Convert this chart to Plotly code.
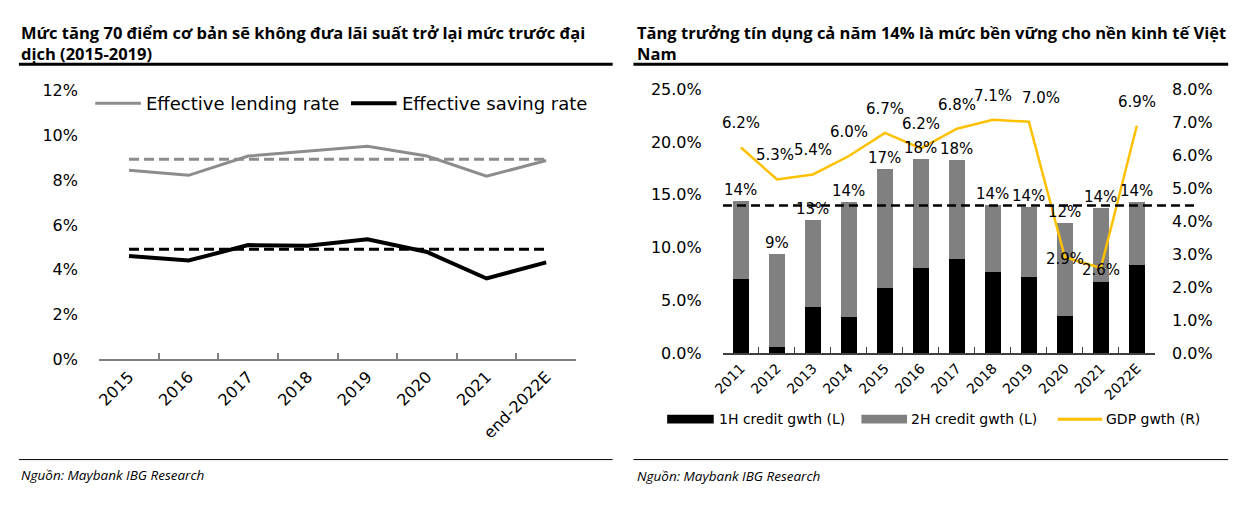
import plotly.graph_objects as go

W, H = 1247, 510

# ---------------- Left chart data ----------------
rate_years = ["2015", "2016", "2017", "2018", "2019", "2020", "2021", "end-2022E"]
lending_rate = [8.44, 8.21, 9.07, 9.29, 9.51, 9.07, 8.17, 8.87]
saving_rate = [4.61, 4.41, 5.10, 5.07, 5.36, 4.79, 3.61, 4.33]
lending_avg_pre = 8.93
saving_avg_pre = 4.91
rate_ticks = [0, 2, 4, 6, 8, 10, 12]

# ---------------- Right chart data ----------------
credit_years = ["2011", "2012", "2013", "2014", "2015", "2016", "2017",
                "2018", "2019", "2020", "2021", "2022E"]
credit_1h = [7.06, 0.61, 4.32, 3.41, 6.21, 8.10, 8.95, 7.73, 7.25, 3.50, 6.76, 8.37]
credit_2h = [7.40, 8.74, 8.31, 10.89, 11.20, 10.29, 9.38, 6.33, 6.60, 8.86, 7.00, 5.91]
gdp_growth = [6.24, 5.27, 5.42, 5.98, 6.68, 6.21, 6.81, 7.08, 7.02, 2.91, 2.58, 6.90]
credit_target = 14.0
credit_ticks = [0, 5, 10, 15, 20, 25]
gdp_ticks = [0, 1, 2, 3, 4, 5, 6, 7, 8]

# label placement tweaks (style only)
gdp_label_middle = ["2020", "2021"]
gdp_label_xshift = {"2019": 12, "2012": -2}

FONT = "DejaVu Sans"
TITLE_FONT = "Open Sans"
CLEAR = "rgba(0,0,0,0)"


def px(x):
    return x / W


def py(y):
    return (H - y) / H


fig = go.Figure()

# Left chart traces
fig.add_trace(go.Scatter(x=rate_years, y=[lending_avg_pre] * len(rate_years), mode="lines",
                         line=dict(color="#8c8c8c", width=3, dash="10px,5px"),
                         xaxis="x", yaxis="y", showlegend=False, hoverinfo="skip"))
fig.add_trace(go.Scatter(x=rate_years, y=[saving_avg_pre] * len(rate_years), mode="lines",
                         line=dict(color="#000000", width=3, dash="10px,5px"),
                         xaxis="x", yaxis="y", showlegend=False, hoverinfo="skip"))
fig.add_trace(go.Scatter(x=rate_years, y=lending_rate, mode="lines", name="Effective lending rate",
                         line=dict(color="#8c8c8c", width=3), xaxis="x", yaxis="y", showlegend=False))
fig.add_trace(go.Scatter(x=rate_years, y=saving_rate, mode="lines", name="Effective saving rate",
                         line=dict(color="#000000", width=4), xaxis="x", yaxis="y", showlegend=False))

# Right chart traces
fig.add_trace(go.Bar(x=credit_years, y=credit_1h, name="1H credit gwth (L)",
                     marker=dict(color="#000000", line=dict(width=0)),
                     xaxis="x2", yaxis="y2", showlegend=False))
fig.add_trace(go.Bar(x=credit_years, y=credit_2h, name="2H credit gwth (L)",
                     marker=dict(color="#808080", line=dict(width=0)),
                     xaxis="x2", yaxis="y2", showlegend=False))
fig.add_trace(go.Scatter(x=credit_years, y=gdp_growth, mode="lines", name="GDP gwth (R)",
                         line=dict(color="#FFC000", width=2.5),
                         xaxis="x2", yaxis="y3", showlegend=False))

annotations = []
shapes = []

label_font = dict(family=FONT, size=15, color="#000")
# Bar total labels (x given as category index)
for i, (a, b) in enumerate(zip(credit_1h, credit_2h)):
    tot = a + b
    annotations.append(dict(x=i, y=tot, xref="x2", yref="y2", text=f"{tot:.0f}%",
                            showarrow=False, yshift=11, font=label_font))
# GDP labels
for i, (yr, g) in enumerate(zip(credit_years, gdp_growth)):
    shift = -2 if yr in gdp_label_middle else 24
    annotations.append(dict(x=i, y=g, xref="x2", yref="y3", text=f"{g:.1f}%",
                            showarrow=False, yshift=shift, xshift=gdp_label_xshift.get(yr, 0),
                            font=label_font))

# 14% target dashed line (extends past the plot)
shapes.append(dict(type="line", xref="x2 domain", yref="y2", x0=0, x1=(1196 - 718.3) / (1154 - 718.3),
                   y0=credit_target, y1=credit_target, layer="above",
                   line=dict(color="#000000", width=2.5, dash="9px,5px")))

# Titles
title_font = dict(family=TITLE_FONT, size=16.5, color="#000")
annotations.append(dict(x=px(8), y=py(35), xref="paper", yref="paper", xanchor="left", yanchor="middle",
                        align="left", showarrow=False, font=title_font,
                        text="<b>Mức tăng 70 điểm cơ bản sẽ không đưa lãi suất trở lại mức trước đại<br>dịch (2015-2019)</b>"))
annotations.append(dict(x=px(630), y=py(35), xref="paper", yref="paper", xanchor="left", yanchor="middle",
                        align="left", showarrow=False, font=title_font,
                        text="<b>Tăng trưởng tín dụng cả năm 14% là mức bền vững cho nền kinh tế Việt<br>Nam</b>"))

# Title rules and bottom rules
for x0, x1 in [(8, 607), (628, 1228)]:
    shapes.append(dict(type="line", xref="paper", yref="paper", x0=px(x0), x1=px(x1),
                       y0=py(57.5), y1=py(57.5), line=dict(color="#000", width=3)))
    shapes.append(dict(type="line", xref="paper", yref="paper", x0=px(x0), x1=px(x1),
                       y0=py(468), y1=py(468), line=dict(color="#000", width=1)))

# Sources
src_font = dict(family=TITLE_FONT, size=13.5, color="#000")
annotations.append(dict(x=px(8), y=py(484), xref="paper", yref="paper", xanchor="left", yanchor="middle",
                        showarrow=False, font=src_font, text="<i>Nguồn: Maybank IBG Research</i>"))
annotations.append(dict(x=px(630), y=py(485), xref="paper", yref="paper", xanchor="left", yanchor="middle",
                        showarrow=False, font=src_font, text="<i>Nguồn: Maybank IBG Research</i>"))

# Left legend (manual)
leg_y = 98
shapes.append(dict(type="line", xref="paper", yref="paper", x0=px(85), x1=px(131), y0=py(leg_y), y1=py(leg_y),
                   line=dict(color="#8c8c8c", width=3)))
annotations.append(dict(x=px(134), y=py(leg_y), xref="paper", yref="paper", xanchor="left", yanchor="middle",
                        showarrow=False, text="Effective lending rate", font=dict(family=FONT, size=18, color="#000")))
shapes.append(dict(type="line", xref="paper", yref="paper", x0=px(343), x1=px(389), y0=py(leg_y), y1=py(leg_y),
                   line=dict(color="#000", width=4)))
annotations.append(dict(x=px(392), y=py(leg_y), xref="paper", yref="paper", xanchor="left", yanchor="middle",
                        showarrow=False, text="Effective saving rate", font=dict(family=FONT, size=18, color="#000")))

# Right legend (manual)
leg2_y = 426
shapes.append(dict(type="rect", xref="paper", yref="paper", x0=px(662), x1=px(709), y0=py(421.5), y1=py(430.5),
                   fillcolor="#000", line=dict(width=0)))
annotations.append(dict(x=px(712), y=py(leg2_y), xref="paper", yref="paper", xanchor="left", yanchor="middle",
                        showarrow=False, text="1H credit gwth (L)", font=dict(family=FONT, size=14, color="#000")))
shapes.append(dict(type="rect", xref="paper", yref="paper", x0=px(858), x1=px(904), y0=py(421.5), y1=py(430.5),
                   fillcolor="#808080", line=dict(width=0)))
annotations.append(dict(x=px(906), y=py(leg2_y), xref="paper", yref="paper", xanchor="left", yanchor="middle",
                        showarrow=False, text="2H credit gwth (L)", font=dict(family=FONT, size=14, color="#000")))
shapes.append(dict(type="line", xref="paper", yref="paper", x0=px(1056), x1=px(1101), y0=py(leg2_y), y1=py(leg2_y),
                   line=dict(color="#FFC000", width=3)))
annotations.append(dict(x=px(1103), y=py(leg2_y), xref="paper", yref="paper", xanchor="left", yanchor="middle",
                        showarrow=False, text="GDP gwth (R)", font=dict(family=FONT, size=14, color="#000")))

axis_grey = "#808080"
axis_dark = "#404040"
fig.update_layout(
    width=W, height=H, autosize=False,
    margin=dict(l=0, r=0, t=0, b=0),
    paper_bgcolor="white", plot_bgcolor="white",
    barmode="stack", bargap=0.54,
    showlegend=False,
    font=dict(family=FONT, color="#000"),
    # ---- left chart ----
    xaxis=dict(domain=[px(89), px(570)], anchor="y", type="category", range=[-0.5, 7.5],
               showline=True, linecolor=axis_grey, linewidth=1.5, ticks="inside", tickson="boundaries",
               ticklen=7, tickcolor=axis_grey, tickwidth=1.5, tickangle=-45, showgrid=False,
               tickfont=dict(family=FONT, size=16, color="#000")),
    yaxis=dict(domain=[py(364), py(84.5)], anchor="x", range=[0, 12], tickmode="array",
               tickvals=rate_ticks, ticktext=[f"{v}%" for v in rate_ticks],
               showline=False, ticks="outside", ticklen=17, tickcolor=CLEAR,
               showgrid=False, zeroline=False, tickfont=dict(family=FONT, size=16, color="#000")),
    yaxis4=dict(overlaying="y", anchor="x", range=[0, 12], tickmode="array", tickvals=rate_ticks,
                showticklabels=False, showline=True, linecolor=axis_grey, linewidth=1.5,
                ticks="inside", ticklen=5, tickcolor=axis_grey, tickwidth=1.5,
                showgrid=False, zeroline=False),
    # ---- right chart ----
    xaxis2=dict(domain=[px(718.3), px(1154)], anchor="y2", type="category", range=[-0.5, 11.5],
                showline=True, linecolor=axis_dark, linewidth=1.5, ticks="inside", tickson="boundaries",
                ticklen=6, tickcolor=axis_dark, tickangle=-45, showgrid=False,
                tickfont=dict(family=FONT, size=14, color="#000")),
    yaxis2=dict(domain=[py(357.3), py(83.6)], anchor="x2", range=[0, 25], tickmode="array",
                tickvals=credit_ticks, ticktext=[f"{v:.1f}%" for v in credit_ticks],
                showline=False, ticks="outside", ticklen=17, tickcolor=CLEAR,
                showgrid=False, zeroline=False, tickfont=dict(family=FONT, size=16, color="#000")),
    yaxis5=dict(overlaying="y2", anchor="x2", range=[0, 25], tickmode="array", tickvals=credit_ticks,
                showticklabels=False, showline=True, linecolor=axis_dark, linewidth=1.5,
                ticks="inside", ticklen=5, tickcolor=axis_dark, tickwidth=1.5,
                showgrid=False, zeroline=False),
    yaxis3=dict(overlaying="y2", side="right", anchor="x2", range=[0, 8], tickmode="array",
                tickvals=gdp_ticks, ticktext=[f"{v:.1f}%" for v in gdp_ticks],
                showline=False, ticks="outside", ticklen=13, tickcolor=CLEAR,
                showgrid=False, zeroline=False, tickfont=dict(family=FONT, size=16, color="#000")),
    annotations=annotations,
    shapes=shapes,
)

fig.write_html("out.html", config={"displayModeBar": False},
               post_script="document.body.style.margin='0';")
